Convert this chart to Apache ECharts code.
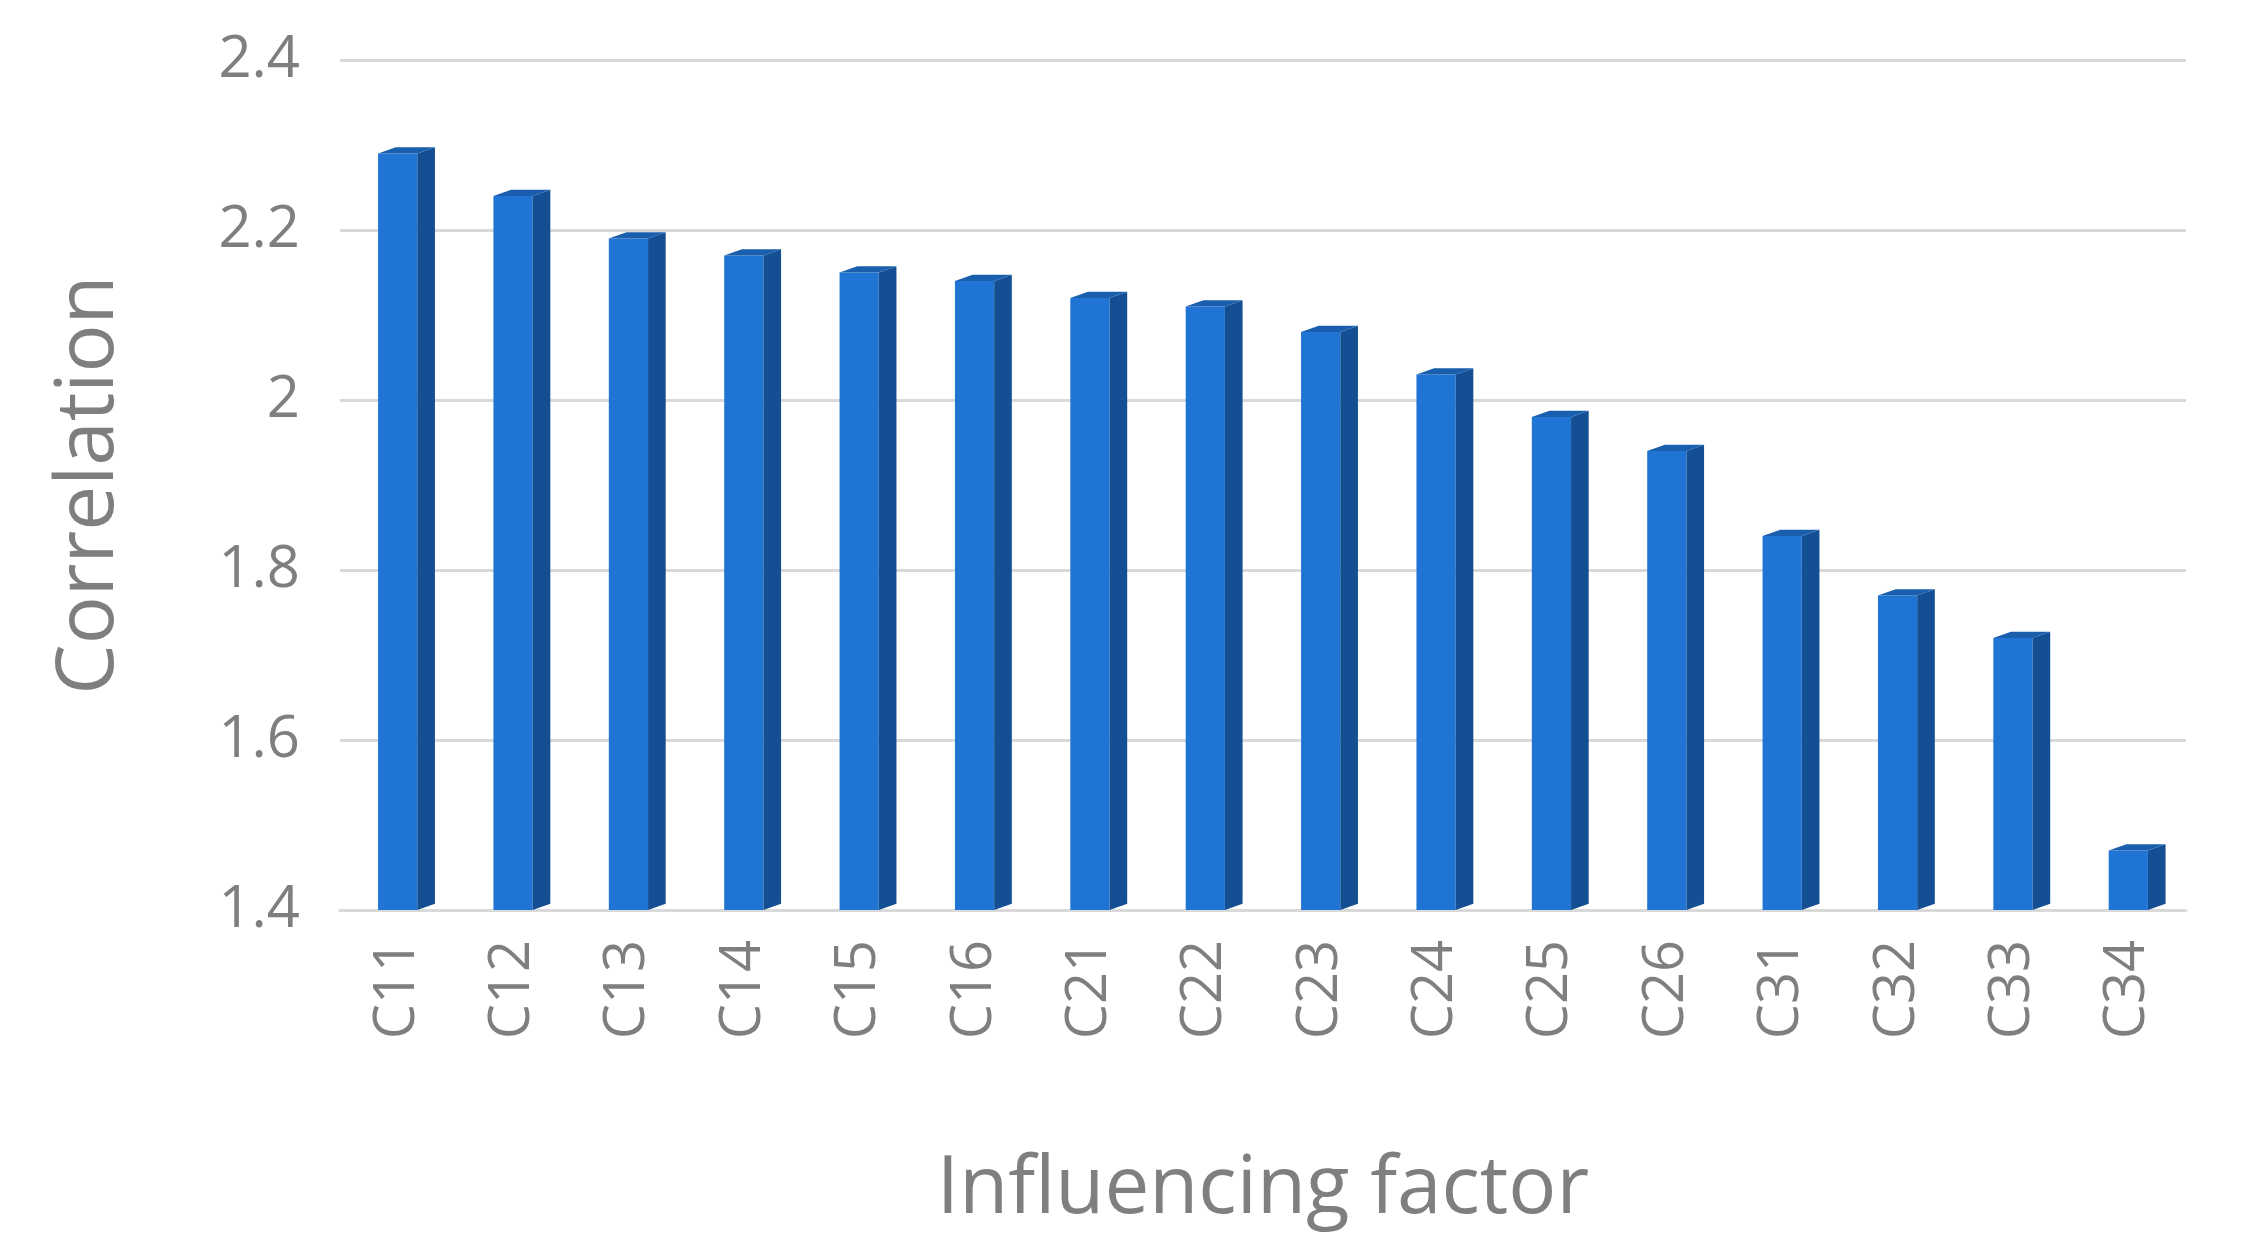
<!DOCTYPE html>
<html>
<head>
<meta charset="utf-8">
<script src="https://cdn.jsdelivr.net/npm/echarts@6/dist/echarts.min.js"></script>
<style>html,body{margin:0;background:#fff}#chart{width:2246px;height:1240px}</style>
</head>
<body>
<div id="chart"></div>
<script>
const categories = ['C11','C12','C13','C14','C15','C16','C21','C22','C23','C24','C25','C26','C31','C32','C33','C34'];
const correlation = [2.29,2.24,2.19,2.17,2.15,2.14,2.12,2.11,2.08,2.03,1.98,1.94,1.84,1.77,1.72,1.47];
const yTicks = { min: 1.4, max: 2.4, interval: 0.2 };

const chart = echarts.init(document.getElementById('chart'));

// bar with a darker side face and top to mimic the 3D look
const renderBar = function (params, api) {
    const x = api.value(0);
    const top = api.coord([x, api.value(1)]);
    const base = api.coord([x, yTicks.min]);
    const w = api.size([1, 0])[0] * 0.34;
    const d = w * 0.45;
    const left = top[0] - w / 2;
    return {
        type: 'group',
        children: [
            { type: 'rect', shape: { x: left, y: top[1], width: w, height: base[1] - top[1] },
              style: { fill: '#1f74d4' } },
            { type: 'polygon', shape: { points: [[left + w, top[1]], [left + w + d, top[1] - d * 0.35], [left + w + d, base[1] - d * 0.35], [left + w, base[1]]] },
              style: { fill: '#144f93' } },
            { type: 'polygon', shape: { points: [[left, top[1]], [left + d, top[1] - d * 0.35], [left + w + d, top[1] - d * 0.35], [left + w, top[1]]] },
              style: { fill: '#1a5fae' } }
        ]
    };
};

chart.setOption({
    animation: false,
    grid: { left: 340, right: 60, top: 60, bottom: 330 },
    xAxis: {
        type: 'category',
        data: categories,
        name: 'Influencing factor',
        nameLocation: 'middle',
        nameGap: 240,
        nameTextStyle: { fontFamily: 'Open Sans', fontSize: 80, color: '#7f7f7f' },
        axisLine: { lineStyle: { color: '#d9d9d9', width: 3 } },
        axisTick: { show: false },
        axisLabel: { rotate: 90, fontFamily: 'Open Sans', fontSize: 56, color: '#7f7f7f', margin: 30 }
    },
    yAxis: {
        type: 'value',
        min: yTicks.min, max: yTicks.max, interval: yTicks.interval,
        name: 'Correlation',
        nameLocation: 'middle',
        nameGap: 210,
        nameTextStyle: { fontFamily: 'Open Sans', fontSize: 80, color: '#7f7f7f' },
        axisLine: { show: false },
        axisTick: { show: false },
        splitLine: { lineStyle: { color: '#d9d9d9', width: 3 } },
        axisLabel: { fontFamily: 'Open Sans', fontSize: 58, color: '#7f7f7f', margin: 40,
            formatter: v => +v.toFixed(1) + '' }
    },
    series: [{
        type: 'custom',
        renderItem: renderBar,
        encode: { x: 0, y: 1 },
        data: correlation.map((v, i) => [i, v])
    }]
});
</script>
</body>
</html>
